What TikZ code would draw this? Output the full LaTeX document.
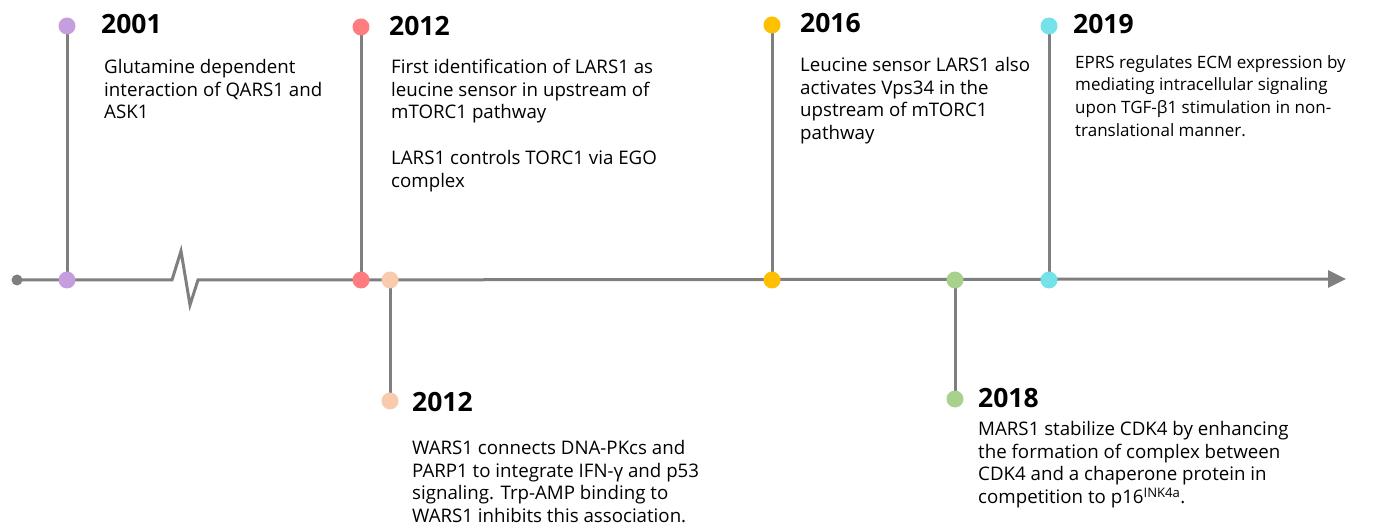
\documentclass[tikz,border=0pt]{standalone}
\usepackage{fontspec}
\setmainfont{Open Sans}
\usetikzlibrary{arrows.meta,backgrounds}
\definecolor{lnc}{HTML}{7F7F7F}
\definecolor{cpur}{HTML}{C59EE0}
\definecolor{cred}{HTML}{FF7C80}
\definecolor{cpea}{HTML}{F8CBAD}
\definecolor{cyel}{HTML}{FFC000}
\definecolor{cgrn}{HTML}{A9D18E}
\definecolor{ccya}{HTML}{75E1E8}
\tikzset{
  dot/.style={circle,fill=#1,minimum size=17pt,inner sep=0pt},
  yeartxt/.style={anchor=north west,inner sep=0pt,font=\fontsize{26.5}{30}\selectfont\bfseries},
  bodytxt/.style={anchor=north west,inner sep=0pt,align=left,font=\fontsize{18.7}{22.7}\selectfont},
  smalltxt/.style={bodytxt,font=\fontsize{17}{22.7}\selectfont},
  tl/.style={draw=lnc,line width=3pt}
}
\begin{document}
\begin{tikzpicture}[x=1pt,y=-1pt]
\useasboundingbox (0,0) rectangle (1389,526);
% dots
\node[circle,fill=lnc,minimum size=11pt,inner sep=0pt] (start) at (17,280) {};
\node[dot=cpur] (a1) at (67,26) {};
\node[dot=cpur] (a0) at (67,280) {};
\node[dot=cred] (b1) at (361,27) {};
\node[dot=cred] (b0) at (361,280) {};
\node[dot=cpea] (c0) at (390,280) {};
\node[dot=cpea] (c1) at (390,401) {};
\node[dot=cyel] (d1) at (772,25) {};
\node[dot=cyel] (d0) at (772,280) {};
\node[dot=cgrn] (e0) at (955,280) {};
\node[dot=cgrn] (e1) at (955,399) {};
\node[dot=ccya] (f1) at (1049,26) {};
\node[dot=ccya] (f0) at (1049,280) {};
\coordinate (brkL) at (172,280);
\coordinate (peak) at (181,251);
\coordinate (valley) at (190,305);
\coordinate (brkR) at (198,280);
\coordinate (tip) at (1346,279);
\begin{pgfonlayer}{background}
\draw[tl,line join=miter,-{Triangle[length=18pt,width=17pt]}] (start.center) -- (brkL) -- (peak) -- (valley) -- (brkR) -- (tip);
\draw[tl] (a1.center) -- (a0.center);
\draw[tl] (b1.center) -- (b0.center);
\draw[tl] (c0.center) -- (c1.center);
\draw[tl] (d1.center) -- (d0.center);
\draw[tl] (e0.center) -- (e1.center);
\draw[tl] (f1.center) -- (f0.center);
\end{pgfonlayer}
% texts
\node[yeartxt] (y1) at (101,14) {2001};
\node[bodytxt] (t1) at (104,59) {Glutamine dependent\\interaction of QARS1 and\\ASK1};
\node[yeartxt] (y2) at (389,16) {2012};
\node[bodytxt] (t2) at (391,59) {First identification of LARS1 as\\leucine sensor in upstream of\\mTORC1 pathway\\[22.7pt]LARS1 controls TORC1 via EGO\\complex};
\node[yeartxt] (y3) at (800,13) {2016};
\node[bodytxt] (t3) at (800,57) {Leucine sensor LARS1 also\\activates Vps34 in the\\upstream of mTORC1\\pathway};
\node[yeartxt] (y4) at (1073,14) {2019};
\node[smalltxt] (t4) at (1075,55) {EPRS regulates ECM expression by\\mediating intracellular signaling\\upon TGF-β1 stimulation in non-\\translational manner.};
\node[yeartxt] (y5) at (412,392) {2012};
\node[bodytxt] (t5) at (412,440) {WARS1 connects DNA-PKcs and\\PARP1 to integrate IFN-γ and p53\\signaling. Trp-AMP binding to\\WARS1 inhibits this association.};
\node[yeartxt] (y6) at (978,388) {2018};
\node[bodytxt] (t6) at (978,421) {MARS1 stabilize CDK4 by enhancing\\the formation of complex between\\CDK4 and a chaperone protein in\\competition to p16\textsuperscript{INK4a}.};
\end{tikzpicture}
\end{document}
